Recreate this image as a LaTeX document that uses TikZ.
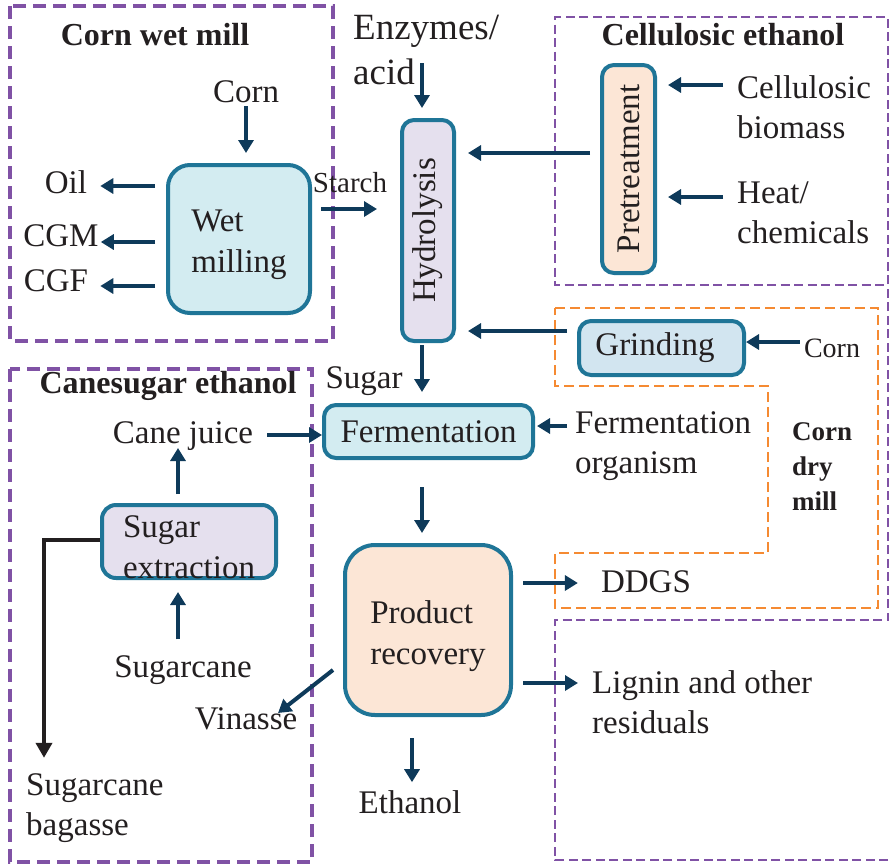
\documentclass[tikz,border=0pt]{standalone}
\usepackage{fontspec}
\usepackage{graphicx}
\setmainfont{Liberation Serif}
\usetikzlibrary{arrows.meta,calc}
\definecolor{arrc}{HTML}{0E3A5A}
\definecolor{boxb}{HTML}{1F7597}
\definecolor{cyanf}{HTML}{D3ECF1}
\definecolor{grindf}{HTML}{D2E5F0}
\definecolor{lavf}{HTML}{E5E0EE}
\definecolor{peachf}{HTML}{FCE6D6}
\definecolor{grpp}{HTML}{8052A5}
\definecolor{grpo}{HTML}{F58A32}
\definecolor{txtc}{HTML}{231F20}
\newcommand{\twolines}[3]{\raisebox{#1}[0pt][0pt]{\begin{tabular}[t]{@{}l@{}}#2\\#3\end{tabular}}}
\begin{document}
\begin{tikzpicture}[x=1pt,y=-1pt,
  txt/.style={inner sep=0pt, text=txtc, font=\fontsize{33}{40}\selectfont},
  ttl/.style={inner sep=0pt, text=txtc, font=\fontsize{32}{38}\selectfont\bfseries},
  proc/.style={draw=boxb, line width=4pt, rounded corners=12pt, inner sep=0pt, text=txtc, font=\fontsize{33}{41}\selectfont},
  arr/.style={draw=arrc, line width=4pt, -{Triangle[length=13pt,width=15pt]}},
  barr/.style={draw=txtc, line width=4.5pt, -{Triangle[length=15pt,width=16pt]}},
  grpL/.style={draw=grpp, line width=3.4pt, dash pattern=on 13pt off 7pt},
  grpR/.style={draw=grpp, line width=2.5pt, dash pattern=on 9pt off 4.5pt},
  grpO/.style={draw=grpo, line width=2.6pt, dash pattern=on 10pt off 5pt}
]
\useasboundingbox (0,0) rectangle (890,865);

% group outlines
\draw[grpL] (10,6) rectangle (333,341);
\draw[grpL] (10,369) rectangle (312,862);
\draw[grpR] (888,860) -- (555,860) -- (555,620) -- (888,620) -- (888,17) -- (555,17) -- (555,285) -- (888,285);
\draw[grpO] (555,308) -- (878,308) -- (878,608) -- (555,608) -- (555,553) -- (768,553) -- (768,386) -- (555,386) -- cycle;

% titles
\node[ttl] (twm) at (155,35) {Corn wet mill};
\node[ttl] (tce) at (723,35) {Cellulosic ethanol};
\node[ttl] (tcs) at (168,386) {Canesugar ethanol};
\node[ttl, font=\fontsize{27}{35}\selectfont\bfseries, align=left, anchor=west] (cdm) at (792,467) {Corn\\dry\\mill};

% process boxes
\node[proc, fill=cyanf, rounded corners=22pt, minimum width=142pt, minimum height=148pt] (wet) at (239,239) {\twolines{7.5pt}{Wet}{milling}};
\node[proc, fill=lavf, minimum width=52pt, minimum height=221pt] (hyd) at (428,230.5) {\rotatebox{90}{Hydrolysis}};
\node[proc, fill=peachf, minimum width=53pt, minimum height=208pt] (pre) at (628.5,169) {\rotatebox{90}{Pretreatment}};
\node[proc, fill=grindf, minimum width=165pt, minimum height=54pt] (grind) at (661.5,348) {\hspace*{-13pt}Grinding};
\node[proc, fill=cyanf, minimum width=209pt, minimum height=53pt] (ferm) at (428.5,431.5) {Fermentation};
\node[proc, fill=lavf, rounded corners=14pt, minimum width=174pt, minimum height=73pt] (sugext) at (189,541.5) {\twolines{4pt}{Sugar}{extraction}};
\node[proc, fill=peachf, rounded corners=30pt, minimum width=166pt, minimum height=170pt] (prod) at (428,630) {\twolines{6.5pt}{Product}{recovery}};

% labels
\node[txt] (corn1) at (246,92) {Corn};
\node[txt] (oil) at (66,182) {Oil};
\node[txt] (cgm) at (61,236) {CGM};
\node[txt] (cgf) at (56,281) {CGF};
\node[txt, font=\fontsize{29}{35}\selectfont] (starch) at (350,183) {Starch};
\node[txt, font=\fontsize{37}{45}\selectfont, align=left, anchor=west] (enz) at (353,49.5) {Enzymes/\\acid};
\node[txt, align=left, anchor=west] (cellbio) at (737,107) {Cellulosic\\biomass};
\node[txt, align=left, anchor=west] (heat) at (737,212.5) {Heat/\\chemicals};
\node[txt, font=\fontsize{28}{34}\selectfont] (corn2) at (832,348) {Corn};
\node[txt] (sugar) at (364,381) {Sugar};
\node[txt, align=left, anchor=west] (fermorg) at (575,446.5) {Fermentation\\organism};
\node[txt] (canejuice) at (183,436) {Cane juice};
\node[txt] (sugarcane) at (183,670) {Sugarcane};
\node[txt, align=left, anchor=west] (bag) at (26,808.5) {Sugarcane\\bagasse};
\node[txt] (ddgs) at (646,582) {DDGS};
\node[txt, align=left, anchor=west] (lignin) at (592,702.5) {Lignin and other\\residuals};
\node[txt] (vinasse) at (246,719) {Vinasse};
\node[txt] (ethanol) at (410,802) {Ethanol};

% connectors: corn wet mill
\draw[arr, shorten <=3pt, shorten >=10pt] (corn1.south) -- (corn1.south |- wet.north);
\coordinate (o1) at ([yshift=-4pt]oil.east);
\draw[arr, shorten <=11pt, shorten >=13pt] (o1 -| wet.west) -- (o1);
\coordinate (o2) at ([yshift=-6pt]cgm.east);
\draw[arr, shorten <=11pt, shorten >=2pt] (o2 -| wet.west) -- (o2);
\coordinate (o3) at ([yshift=-5pt]cgf.east);
\draw[arr, shorten <=11pt, shorten >=12pt] (o3 -| wet.west) -- (o3);
\coordinate (s1) at ([yshift=30pt]wet.east);
\draw[arr, shorten <=9pt, shorten >=23pt] (s1) -- (s1 -| hyd.west);

% hydrolysis inputs
\coordinate (h1) at ([xshift=-6pt]hyd.north);
\draw[arr, shorten >=10pt] ([yshift=55pt]h1) -- (h1);
\coordinate (p1) at ([yshift=16pt]pre.west);
\draw[arr, shorten <=10pt, shorten >=12pt] (p1) -- (p1 -| hyd.east);
\coordinate (c1) at ([yshift=22pt]cellbio.west);
\draw[arr, shorten <=14pt, shorten >=11pt] (c1) -- (c1 -| pre.east);
\coordinate (c2) at ([yshift=15.5pt]heat.west);
\draw[arr, shorten <=14pt, shorten >=11pt] (c2) -- (c2 -| pre.east);
\coordinate (g1) at ([yshift=17pt]grind.west);
\draw[arr, shorten <=10pt, shorten >=12pt] (g1) -- (g1 -| hyd.east);
\coordinate (g2) at ([yshift=6pt]corn2.west);
\draw[arr, shorten <=4pt] (g2) -- (g2 -| grind.east);

% fermentation
\coordinate (h2) at ([xshift=-6pt]hyd.south);
\draw[arr, shorten <=2pt, shorten >=11pt] (h2) -- (h2 |- ferm.north);
\coordinate (f0) at ([yshift=20.5pt]fermorg.west);
\draw[arr, shorten <=8pt, shorten >=2pt] (f0) -- (f0 -| ferm.east);
\coordinate (cj) at ([yshift=1pt]canejuice.east);
\draw[arr, shorten <=14pt] (cj) -- (cj -| ferm.west);
\coordinate (f1) at ([xshift=-6.5pt]ferm.south);
\draw[arr, shorten <=27pt, shorten >=10pt] (f1) -- (f1 |- prod.north);

% product recovery outputs
\coordinate (d1) at ([yshift=47pt]prod.east);
\draw[arr, shorten <=10pt, shorten >=23pt] (d1) -- (d1 -| ddgs.west);
\coordinate (l1) at ([yshift=-53pt]prod.east);
\draw[arr, shorten <=10pt, shorten >=14pt] (l1) -- (l1 -| lignin.west);
\draw[arr] ([xshift=-10pt,yshift=-40pt]prod.west) -- ([xshift=32pt,yshift=6pt]vinasse.center);
\coordinate (e2) at ([xshift=-16pt]prod.south);
\draw[arr, shorten <=21pt, shorten >=8pt] (e2) -- (e2 |- ethanol.north);

% cane sugar
\coordinate (x1) at ([xshift=-11pt]sugext.north);
\draw[arr, shorten <=9pt, shorten >=12pt] (x1) -- (x1 |- canejuice.center);
\coordinate (x2) at ([xshift=-11pt]sugext.south);
\draw[arr, shorten <=16pt, shorten >=12pt] (x2 |- sugarcane.north) -- (x2);
\coordinate (b1) at ([yshift=1.5pt]sugext.west);
\draw[barr, shorten >=16pt] (b1) -| ($(bag.north west)+(18,0)$);
\end{tikzpicture}
\end{document}
